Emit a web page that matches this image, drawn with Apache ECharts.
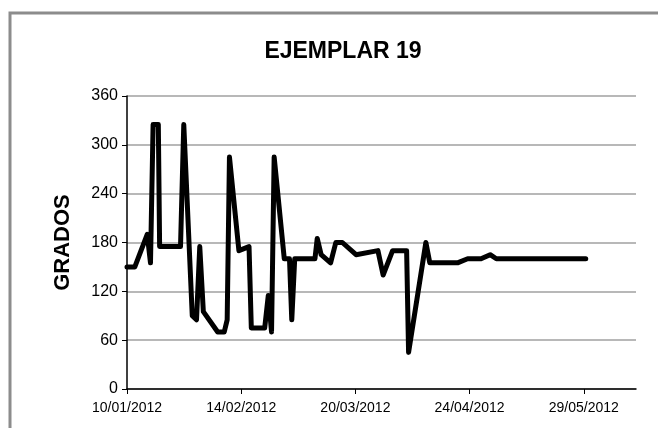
<!DOCTYPE html>
<html>
<head>
<meta charset="utf-8">
<script src="https://cdn.jsdelivr.net/npm/echarts@6/dist/echarts.min.js"></script>
<style>
html,body{margin:0;padding:0;background:#fff;}
#c{width:658px;height:428px;}
</style>
</head>
<body>
<div id="c"></div>
<script>
// Days elapsed since 10/01/2012
var dayOffsets = [0, 2.4, 6.2, 7.2, 8, 9.6, 10, 16.4, 17.4, 20, 21.3, 22.3, 23.4, 27.8, 29.8, 30.7, 31.4, 34.3, 37.4, 38.1, 42.2, 43.3, 44.3, 45.1, 48.2, 49.8, 50.5, 51.4, 57.6, 58.3, 59.5, 62.4, 64, 66, 70.2, 76.9, 78.5, 81.4, 85.7, 86.3, 91.6, 92.8, 101.3, 104.4, 108.5, 111.3, 113.2, 140.6];
var grados = [150, 150, 190, 155, 325, 325, 175, 175, 325, 90, 85, 175, 95, 70, 70, 85, 285, 170, 175, 75, 75, 115, 70, 285, 160, 160, 85, 160, 160, 185, 165, 155, 180, 180, 165, 170, 140, 170, 170, 45, 180, 155, 155, 160, 160, 165, 160, 160];
var tickLabels = ['10/01/2012', '14/02/2012', '20/03/2012', '24/04/2012', '29/05/2012'];
var yTicks = [0, 60, 120, 180, 240, 300, 360];

var data = dayOffsets.map(function (d, i) { return [d, grados[i]]; });
var chart = echarts.init(document.getElementById('c'));
chart.setOption({
  animation: false,
  backgroundColor: '#fff',
  graphic: [{
    type: 'rect', shape: {x: 10, y: 13, width: 700, height: 500},
    style: {fill: 'none', stroke: '#8c8c8c', lineWidth: 3}, silent: true, z: -1
  }],
  title: {
    text: 'EJEMPLAR 19', left: 338, top: 35, textAlign: 'center',
    textStyle: {fontFamily: 'Liberation Sans, Arial, sans-serif', fontWeight: 'bold', fontSize: 23, color: '#000'}
  },
  grid: {left: 127, right: 22, top: 96, bottom: 39, containLabel: false},
  xAxis: {
    type: 'value', min: 0, max: 156, interval: 35,
    axisLine: {show: true, lineStyle: {color: '#000', width: 1.5}},
    axisTick: {show: true, length: 5, lineStyle: {color: '#000'}},
    splitLine: {show: false},
    axisLabel: {
      color: '#000', fontFamily: 'Liberation Sans, Arial, sans-serif', fontSize: 14, margin: 12,
      showMaxLabel: false,
      formatter: function (v) { var i = Math.round(v / 35); return tickLabels[i] || ''; }
    }
  },
  yAxis: {
    type: 'value', min: yTicks[0], max: yTicks[yTicks.length - 1], interval: 60,
    name: 'GRADOS', nameLocation: 'middle', nameGap: 53, nameRotate: 90,
    nameTextStyle: {fontFamily: 'Liberation Sans, Arial, sans-serif', fontWeight: 'bold', fontSize: 22, color: '#000'},
    axisLine: {show: true, lineStyle: {color: '#000', width: 1.5}},
    axisTick: {show: true, length: 5, lineStyle: {color: '#000'}},
    splitLine: {show: true, lineStyle: {color: '#a0a0a0', width: 1.5}},
    axisLabel: {color: '#000', fontFamily: 'Liberation Sans, Arial, sans-serif', fontSize: 16, margin: 9}
  },
  series: [{
    type: 'line', data: data, showSymbol: false, symbol: 'none',
    lineStyle: {color: '#000', width: 5, join: 'round', cap: 'round'}
  }]
});
</script>
</body>
</html>
